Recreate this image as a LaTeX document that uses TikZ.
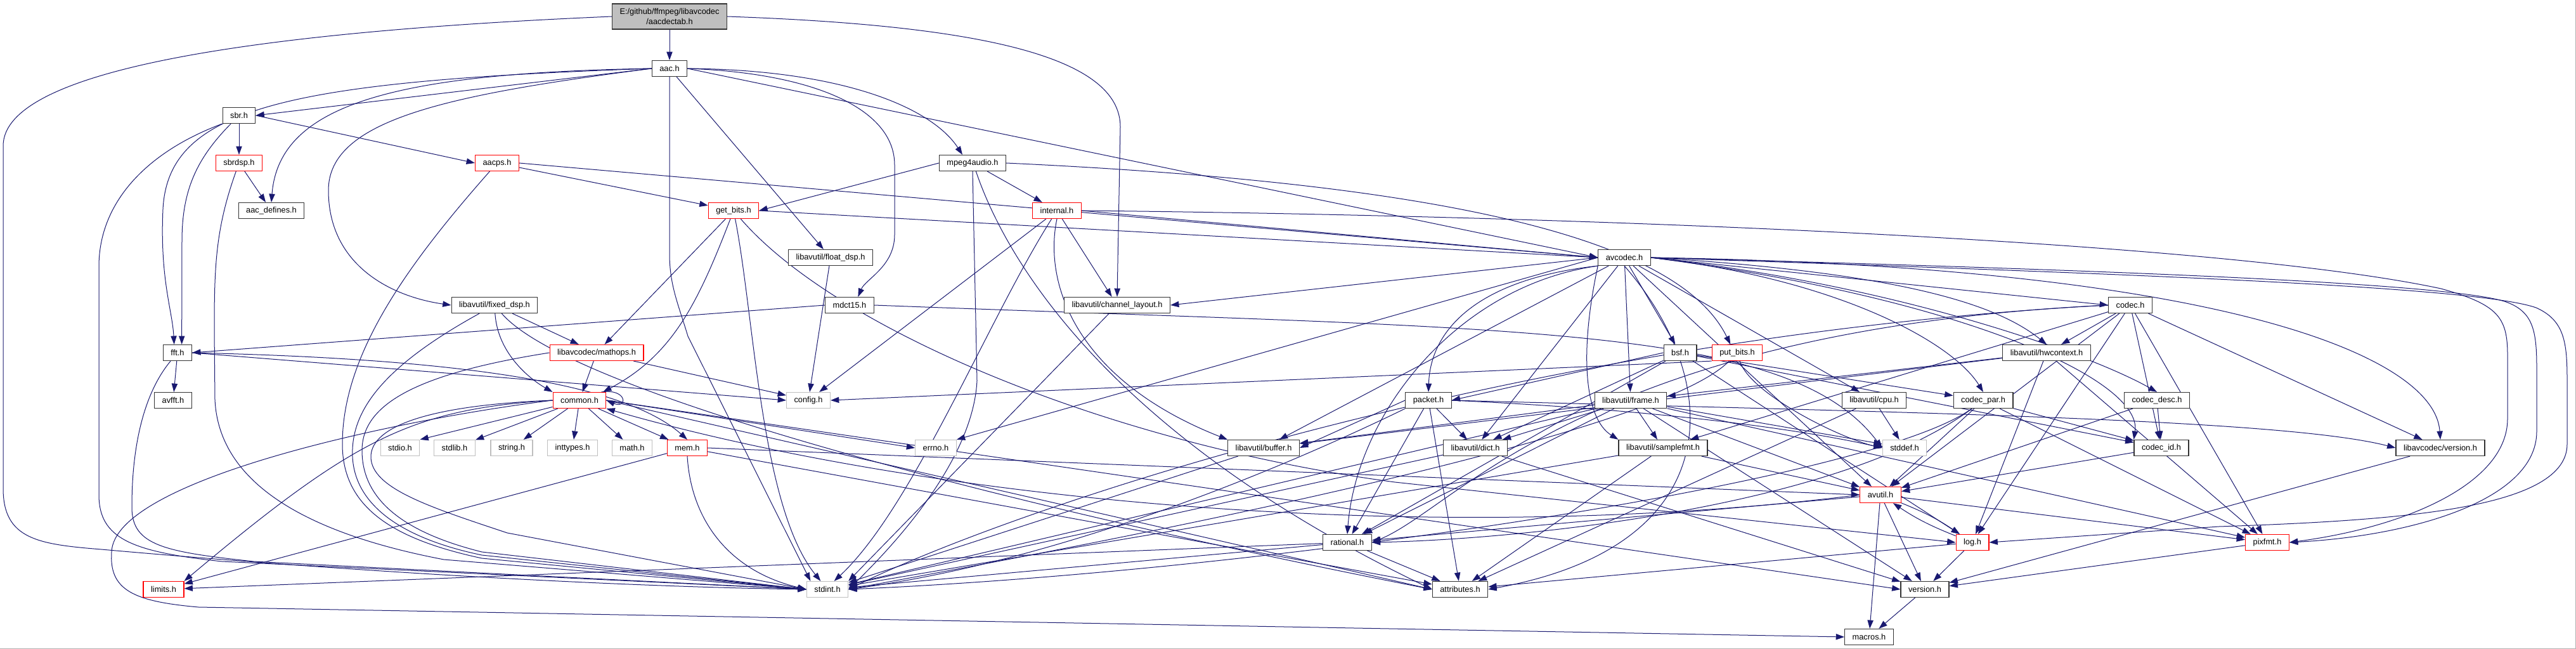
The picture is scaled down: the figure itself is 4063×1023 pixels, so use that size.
\documentclass[tikz,border=0pt]{standalone}
\usepackage{fontspec}
\setmainfont{Liberation Sans}
\usetikzlibrary{arrows.meta,backgrounds}
\definecolor{edgeblue}{RGB}{25,25,112}
\definecolor{grey75}{RGB}{191,191,191}

\begin{document}
\begin{tikzpicture}[x=0.75pt, y=-0.75pt,
    >={Triangle[length=10pt,width=7pt]},
    hdr/.style={draw=black!80, line width=0.9pt, fill=white, inner xsep=9pt, inner ysep=0pt,
        minimum height=18.75pt, font=\fontsize{9.6}{11.5}\selectfont},
    hdrred/.style={hdr, draw=red},
    hdrsys/.style={hdr, draw=grey75},
    hdrroot/.style={hdr, fill=grey75, align=center, minimum height=30pt},
    dep/.style={->, draw=edgeblue, line width=0.75pt}]
    \useasboundingbox (0,0) rectangle (4063,1023);

    % Nodes
    \node[hdrroot] (root) at (1056,26) {E:/github/ffmpeg/libavcodec\\/aacdectab.h};
    \node[hdr] (aac) at (1056,108) {aac.h};
    \node[hdr] (sbr) at (377,182) {sbr.h};
    \node[hdrred] (sbrdsp) at (377,257) {sbrdsp.h};
    \node[hdrred] (aacps) at (784,257) {aacps.h};
    \node[hdr] (mpeg4) at (1534,257) {mpeg4audio.h};
    \node[hdr] (aacdef) at (428,332) {aac\_defines.h};
    \node[hdrred] (getbits) at (1157,332) {get\_bits.h};
    \node[hdrred] (internal) at (1667,332) {internal.h};
    \node[hdr] (floatdsp) at (1310,406) {libavutil/float\_dsp.h};
    \node[hdr] (avcodec) at (2562,406) {avcodec.h};
    \node[hdr] (fixeddsp) at (780,481) {libavutil/fixed\_dsp.h};
    \node[hdr] (mdct) at (1340,481) {mdct15.h};
    \node[hdr] (chlayout) at (1762,481) {libavutil/channel\_layout.h};
    \node[hdr] (codec) at (3360,481) {codec.h};
    \node[hdr] (fft) at (280,556) {fft.h};
    \node[hdrred] (mathops) at (941,556) {libavcodec/mathops.h};
    \node[hdr] (bsf) at (2650,556) {bsf.h};
    \node[hdrred] (putbits) at (2740,556) {put\_bits.h};
    \node[hdr] (hwcontext) at (3228,556) {libavutil/hwcontext.h};
    \node[hdr] (avfft) at (273,631) {avfft.h};
    \node[hdrred] (common) at (914,631) {common.h};
    \node[hdrsys] (config) at (1275,631) {config.h};
    \node[hdr] (packet) at (2253,631) {packet.h};
    \node[hdr] (frame) at (2572,631) {libavutil/frame.h};
    \node[hdr] (cpu) at (2956,631) {libavutil/cpu.h};
    \node[hdr] (codecpar) at (3128,631) {codec\_par.h};
    \node[hdr] (codecdesc) at (3402,631) {codec\_desc.h};
    \node[hdrsys] (stdio) at (631,706) {stdio.h};
    \node[hdrsys] (stdlib) at (717,706) {stdlib.h};
    \node[hdrsys] (string) at (807,706) {string.h};
    \node[hdrsys] (inttypes) at (903,706) {inttypes.h};
    \node[hdrsys] (math) at (997,706) {math.h};
    \node[hdrred] (mem) at (1084,706) {mem.h};
    \node[hdrsys] (errno) at (1476,706) {errno.h};
    \node[hdr] (buffer) at (1993,706) {libavutil/buffer.h};
    \node[hdr] (dict) at (2327,706) {libavutil/dict.h};
    \node[hdr] (samplefmt) at (2623,706) {libavutil/samplefmt.h};
    \node[hdrsys] (stddef) at (3004,706) {stddef.h};
    \node[hdr] (codecid) at (3409,706) {codec\_id.h};
    \node[hdr] (lavcversion) at (3849,706) {libavcodec/version.h};
    \node[hdrred] (avutil) at (2966,780) {avutil.h};
    \node[hdr] (rational) at (2125,855) {rational.h};
    \node[hdrred] (log) at (3111,855) {log.h};
    \node[hdrred] (pixfmt) at (3576,855) {pixfmt.h};
    \node[hdrred] (limits) at (258,929) {limits.h};
    \node[hdrsys] (stdint) at (1305,929) {stdint.h};
    \node[hdr] (attributes) at (2303,929) {attributes.h};
    \node[hdr] (version) at (3036,929) {version.h};
    \node[hdr] (macros) at (2948,1004) {macros.h};

    % Edges
    \begin{scope}[on background layer]
    \fill[white] (0,0) rectangle (4063,1023);
    \draw[black!30, line width=0.75pt] (4062,0) -- (4062,1022) -- (0,1022);

    % aacdectab.h
    \draw[dep] (root) -- (aac);
    \draw[dep] (root.west) .. controls (400,50) and (5,110) .. (5,230) -- (5,770) .. controls (5,850) and (60,858) .. (160,866) .. controls (600,905) and (1000,925) .. (stdint.west);
    \draw[dep] (root.east) .. controls (1550,40) and (1767,90) .. (1767,200) -- (chlayout.north);

    % aac.h
    \draw[dep] (aac.west) -- (sbr.east);
    \draw[dep] (aac.west) .. controls (620,115) and (440,165) .. (aacdef.north);
    \draw[dep] (aac.west) .. controls (450,128) and (265,170) .. (257,330) .. controls (252,440) and (272,490) .. ([xshift=-4pt]fft.north);
    \draw[dep] (aac.west) .. controls (700,150) and (518,190) .. (518,300) .. controls (518,420) and (620,468) .. (fixeddsp.west);
    \draw[dep] (aac) -- (floatdsp);
    \draw[dep] (aac.east) .. controls (1280,115) and (1411,170) .. (1411,260) -- (1411,370) .. controls (1411,420) and (1365,440) .. ([xshift=10pt]mdct.north);
    \draw[dep] (aac.east) .. controls (1330,110) and (1470,170) .. ([xshift=-12pt]mpeg4.north);
    \draw[dep] (aac.east) -- (avcodec.west);
    \draw[dep] (aac.south) -- (1056,400) .. controls (1056,450) and (1070,480) .. (1085,530) -- ([xshift=-20pt]stdint.north);

    % sbr.h and sbrdsp.h
    \draw[dep] (sbr) -- (sbrdsp);
    \draw[dep] (sbr.east) -- (aacps.west);
    \draw[dep] (sbr) .. controls (310,250) and (287,300) .. (287,380) -- ([xshift=5pt]fft.north);
    \draw[dep] (sbr.south west) .. controls (230,240) and (156,320) .. (156,420) -- (156,780) .. controls (156,850) and (210,870) .. (350,885) -- (stdint.west);
    \draw[dep] (sbrdsp) -- (aacdef);
    \draw[dep] (sbrdsp) .. controls (340,360) and (338,420) .. (338,520) -- (339,630) .. controls (345,760) and (480,840) .. (700,882) -- (stdint.west);

    % aacps.h
    \draw[dep] (aacps) -- (getbits);
    \draw[dep] (aacps.east) -- (avcodec.west);
    \draw[dep] (aacps) .. controls (640,420) and (540,560) .. (540,700) .. controls (540,800) and (620,850) .. (760,880) -- (stdint.west);

    % mpeg4audio.h
    \draw[dep] (mpeg4.west) -- (getbits.east);
    \draw[dep] (mpeg4) -- (internal);
    \draw[dep] (mpeg4.east) .. controls (2300,290) and (2650,380) .. ([xshift=-8pt]putbits.north);
    \draw[dep] (mpeg4.south) -- (1541,600) .. controls (1535,720) and (1420,850) .. (stdint.east);
    \draw[dep] ([xshift=4pt]mpeg4.south) .. controls (1590,420) and (1760,690) .. (attributes.west);

    % get_bits.h
    \draw[dep] (getbits.east) -- (avcodec.west);
    \draw[dep] (getbits) -- (mathops);
    \draw[dep] (getbits) .. controls (1100,480) and (1060,560) .. ([xshift=-4pt]common.north east);
    \draw[dep] (getbits) .. controls (1190,500) and (1200,800) .. ([xshift=-8pt]stdint.north);
    \draw[dep] (getbits) .. controls (1320,520) and (1750,700) .. (2200,760) -- (log.west);

    % internal.h
    \draw[dep] (internal) -- (chlayout);
    \draw[dep] (internal.east) -- (avcodec.west);
    \draw[dep] (internal) -- (config);
    \draw[dep] (internal) .. controls (1560,500) and (1440,800) .. ([xshift=8pt]stdint.north);
    \draw[dep] (internal.south) .. controls (1645,450) and (1700,600) .. (buffer.north west);
    \draw[dep] (internal.east) .. controls (2500,340) and (3500,380) .. (3850,455) .. controls (3940,480) and (3955,500) .. (3955,560) -- (3955,660) .. controls (3955,760) and (3800,830) .. (pixfmt.east);

    % dsp headers and mdct15.h
    \draw[dep] (floatdsp) -- (config);
    \draw[dep] (fixeddsp) -- (mathops);
    \draw[dep] (fixeddsp) .. controls (785,560) and (840,600) .. (common.north west);
    \draw[dep] (fixeddsp) .. controls (600,580) and (553,650) .. (556,720) .. controls (560,800) and (640,850) .. (760,875) -- (stdint.west);
    \draw[dep] (fixeddsp) .. controls (900,620) and (1600,800) .. (attributes.west);
    \draw[dep] (mdct.west) -- (fft.east);
    \draw[dep] (mdct.east) .. controls (2400,520) and (2820,510) .. (stddef.west);
    \draw[dep] (chlayout) -- (stdint.north east);

    % fft.h and mathops.h
    \draw[dep] (fft) -- (avfft);
    \draw[dep] (fft.east) -- (config.west);
    \draw[dep] (fft.east) .. controls (700,565) and (980,600) .. (mem.north);
    \draw[dep] (fft) .. controls (210,640) and (208,760) .. (208,800) .. controls (208,860) and (260,870) .. (400,885) -- (stdint.west);
    \draw[dep] (mathops) -- (common);
    \draw[dep] (mathops) -- (config);
    \draw[dep] (mathops.west) .. controls (650,590) and (571,640) .. (571,710) .. controls (571,790) and (640,840) .. (760,870) -- (stdint.west);

    % common.h
    \draw[dep] (common) -- (stdio.north east);
    \draw[dep] (common) -- (stdlib);
    \draw[dep] (common) -- (string);
    \draw[dep] (common) -- (inttypes);
    \draw[dep] (common) -- (math);
    \draw[dep] (common) -- (mem);
    \draw[dep] (common.east) -- (errno.west);
    \draw[dep] (common.west) .. controls (650,645) and (560,690) .. (limits.north east);
    \draw[dep] (common.west) .. controls (650,640) and (585,680) .. (585,720) .. controls (585,770) and (680,800) .. (800,840) -- (stdint.west);
    \draw[dep] (common.west) .. controls (600,665) and (180,760) .. (176,870) .. controls (172,930) and (210,948) .. (313,957) -- (macros.west);
    \draw[dep] (common.east) -- (attributes.west);
    \draw[dep] (common.east) -- (version.west);
    \draw[dep] ([xshift=-6pt]common.north east) .. controls (990,612) and (990,645) .. (common.east);

    % mem.h and buffer.h
    \draw[dep] (mem) -- (limits);
    \draw[dep] (mem.south) .. controls (1090,820) and (1150,900) .. (stdint.west);
    \draw[dep] (mem) -- (attributes);
    \draw[dep] (mem.east) -- (avutil.west);
    \draw[dep] (buffer) -- (stdint);

    % avcodec.h
    \draw[dep] (avcodec.west) -- (errno.north east);
    \draw[dep] (avcodec.south west) .. controls (2490,560) and (2500,660) .. (samplefmt.north west);
    \draw[dep] (avcodec.south) .. controls (2720,600) and (2730,860) .. (attributes.east);
    \draw[dep] (avcodec) -- (avutil);
    \draw[dep] (avcodec) -- (buffer);
    \draw[dep] (avcodec) -- (cpu);
    \draw[dep] (avcodec.west) -- (chlayout.east);
    \draw[dep] (avcodec) -- (dict);
    \draw[dep] (avcodec) -- (frame);
    \draw[dep] (avcodec.east) .. controls (3000,430) and (3150,480) .. (hwcontext.north);
    \draw[dep] (avcodec.east) .. controls (3300,430) and (3900,450) .. (4000,485) .. controls (4045,505) and (4049,540) .. (4049,600) -- (4049,700) .. controls (4049,800) and (3800,820) .. (3500,830) -- (log.east);
    \draw[dep] (avcodec.east) .. controls (3300,425) and (3850,445) .. (3950,475) .. controls (3995,490) and (4001,520) .. (4001,580) -- (4001,680) .. controls (4001,790) and (3800,845) .. (pixfmt.east);
    \draw[dep] (avcodec.south west) .. controls (2300,450) and (2140,650) .. (rational.north);
    \draw[dep] (avcodec) -- (bsf);
    \draw[dep] (avcodec.east) -- (codec.west);
    \draw[dep] (avcodec.east) .. controls (3000,450) and (3300,560) .. (codecdesc.north);
    \draw[dep] (avcodec.east) .. controls (2900,440) and (3080,540) .. (codecpar.north);
    \draw[dep] (avcodec.east) .. controls (3100,470) and (3380,600) .. (codecid.north west);
    \draw[dep] (avcodec.south west) .. controls (2330,440) and (2256,520) .. (packet.north);
    \draw[dep] (avcodec.east) .. controls (3500,420) and (3840,560) .. (lavcversion.north);

    % codec.h
    \draw[dep] (codec.west) .. controls (2400,530) and (1600,800) .. (stdint.east);
    \draw[dep] (codec) -- (avutil);
    \draw[dep] (codec) -- (hwcontext);
    \draw[dep] (codec) -- (log);
    \draw[dep] (codec) -- (pixfmt);
    \draw[dep] (codec.west) .. controls (2500,520) and (2300,800) .. (rational.east);
    \draw[dep] (codec) -- (samplefmt);
    \draw[dep] (codec) -- (codecid);
    \draw[dep] (codec) -- (lavcversion);

    % bsf.h and put_bits.h
    \draw[dep] (bsf) -- (dict);
    \draw[dep] (bsf) -- (log);
    \draw[dep] (bsf) -- (rational);
    \draw[dep] (bsf) -- (codecid);
    \draw[dep] (bsf) -- (codecpar);
    \draw[dep] (bsf.west) -- (packet.east);
    \draw[dep] (putbits.south west) -- (config.east);
    \draw[dep] (putbits) .. controls (2760,620) and (2900,690) .. (stddef.west);
    \draw[dep] (putbits) .. controls (2600,700) and (1600,880) .. (stdint.east);

    % packet.h
    \draw[dep] (packet.east) .. controls (2700,650) and (2900,690) .. (stddef.west);
    \draw[dep] (packet.south west) .. controls (2060,720) and (1700,880) .. (stdint.east);
    \draw[dep] (packet) -- (attributes);
    \draw[dep] (packet.west) -- (buffer.east);
    \draw[dep] (packet) -- (dict);
    \draw[dep] (packet) -- (rational);
    \draw[dep] (packet.east) .. controls (3000,650) and (3600,660) .. (lavcversion.west);

    % frame.h
    \draw[dep] (frame) -- (avutil);
    \draw[dep] (frame) -- (buffer);
    \draw[dep] (frame) -- (dict);
    \draw[dep] (frame) -- (rational);
    \draw[dep] (frame) -- (samplefmt);
    \draw[dep] (frame) -- (pixfmt);
    \draw[dep] (frame) -- (version);
    \draw[dep] (frame) -- (stdint);
    \draw[dep] (frame) -- (stddef);

    % other libavutil and libavcodec headers
    \draw[dep] (dict) -- (stdint);
    \draw[dep] (dict) -- (version);
    \draw[dep] (samplefmt) -- (stdint);
    \draw[dep] (samplefmt) -- (avutil);
    \draw[dep] (samplefmt) -- (attributes);
    \draw[dep] (hwcontext) -- (buffer);
    \draw[dep] (hwcontext) -- (frame);
    \draw[dep] (hwcontext) -- (log);
    \draw[dep] (hwcontext) -- (pixfmt);
    \draw[dep] (cpu) -- (stddef);
    \draw[dep] (cpu) -- (attributes);
    \draw[dep] (codecpar) .. controls (2950,760) and (2000,900) .. (stdint.east);
    \draw[dep] (codecpar) -- (avutil);
    \draw[dep] (codecpar) .. controls (2900,800) and (2400,850) .. (rational.east);
    \draw[dep] (codecpar) -- (pixfmt);
    \draw[dep] (codecpar) -- (codecid);
    \draw[dep] (codecdesc) -- (avutil);
    \draw[dep] (codecdesc) -- (codecid);
    \draw[dep] (codecid) -- (avutil);
    \draw[dep] (lavcversion) -- (version);

    % avutil.h, log.h, pixfmt.h, rational.h, version.h
    \draw[dep] (avutil.west) .. controls (2300,860) and (1500,800) .. (common.south east);
    \draw[dep] (avutil) -- (rational);
    \draw[dep] (avutil) -- (version);
    \draw[dep] (avutil) -- (macros);
    \draw[dep] (avutil) to[bend left=6] (log);
    \draw[dep] (avutil) -- (pixfmt);
    \draw[dep] (log) to[bend left=6] (avutil);
    \draw[dep] (log) -- (attributes);
    \draw[dep] (log) -- (version);
    \draw[dep] (pixfmt) -- (version);
    \draw[dep] (rational) -- (stdint);
    \draw[dep] (rational) -- (limits);
    \draw[dep] (rational) -- (attributes);
    \draw[dep] (version) -- (macros);
    \end{scope}
\end{tikzpicture}
\end{document}
